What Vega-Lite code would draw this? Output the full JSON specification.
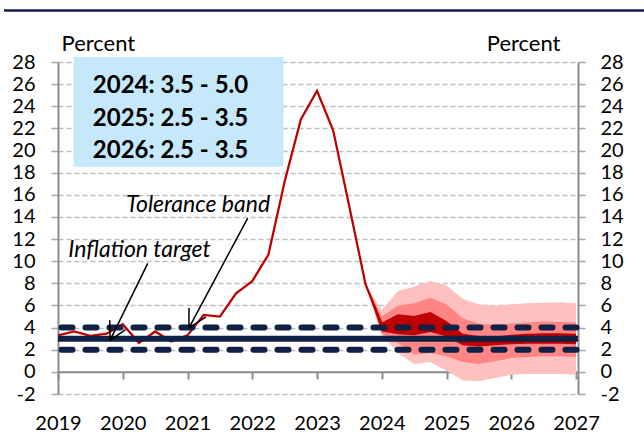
{
  "$schema": "https://vega.github.io/schema/vega-lite/v6.json",
  "width": 520,
  "height": 332,
  "autosize": "none",
  "padding": {"left": 58, "top": 62, "right": 66, "bottom": 40},
  "background": "white",
  "config": {"view": {"stroke": null}, "font": "Lato"},
  "datasets": {
    "hist": [
      {"t": 2019.0, "v": 3.3}, {"t": 2019.25, "v": 3.65}, {"t": 2019.5, "v": 3.25}, {"t": 2019.75, "v": 3.45},
      {"t": 2020.0, "v": 4.3}, {"t": 2020.25, "v": 2.6}, {"t": 2020.5, "v": 3.65}, {"t": 2020.75, "v": 2.75},
      {"t": 2021.0, "v": 3.3}, {"t": 2021.25, "v": 5.15}, {"t": 2021.5, "v": 5.0}, {"t": 2021.75, "v": 7.1},
      {"t": 2022.0, "v": 8.2}, {"t": 2022.25, "v": 10.6}, {"t": 2022.5, "v": 17.2}, {"t": 2022.75, "v": 22.8},
      {"t": 2023.0, "v": 25.4}, {"t": 2023.25, "v": 21.8}, {"t": 2023.5, "v": 14.9}, {"t": 2023.75, "v": 7.9},
      {"t": 2024.0, "v": 4.3}
    ],
    "fan": [
      {"t": 2023.75, "lo90": 7.9, "lo60": 7.9, "lo30": 7.9, "hi30": 7.9, "hi60": 7.9, "hi90": 7.9},
      {"t": 2024.0, "lo90": 3.3, "lo60": 3.45, "lo30": 3.65, "hi30": 4.45, "hi60": 5.0, "hi90": 5.6},
      {"t": 2024.25, "lo90": 1.7, "lo60": 2.6, "lo30": 3.4, "hi30": 5.2, "hi60": 6.0, "hi90": 7.3},
      {"t": 2024.5, "lo90": 0.7, "lo60": 1.55, "lo30": 3.3, "hi30": 5.05, "hi60": 6.2, "hi90": 7.7},
      {"t": 2024.75, "lo90": 0.9, "lo60": 1.7, "lo30": 3.6, "hi30": 5.4, "hi60": 6.7, "hi90": 8.2},
      {"t": 2025.0, "lo90": 0.1, "lo60": 1.4, "lo30": 3.2, "hi30": 4.6, "hi60": 6.1, "hi90": 7.8},
      {"t": 2025.25, "lo90": -0.75, "lo60": 0.9, "lo30": 2.4, "hi30": 3.45, "hi60": 4.85, "hi90": 6.6},
      {"t": 2025.5, "lo90": -0.85, "lo60": 0.7, "lo30": 2.3, "hi30": 3.25, "hi60": 4.35, "hi90": 6.1},
      {"t": 2025.75, "lo90": -0.55, "lo60": 0.95, "lo30": 2.4, "hi30": 3.2, "hi60": 4.25, "hi90": 6.0},
      {"t": 2026.0, "lo90": -0.25, "lo60": 1.25, "lo30": 2.5, "hi30": 3.35, "hi60": 4.35, "hi90": 6.1},
      {"t": 2026.25, "lo90": -0.2, "lo60": 1.35, "lo30": 2.55, "hi30": 3.45, "hi60": 4.45, "hi90": 6.2},
      {"t": 2026.5, "lo90": -0.2, "lo60": 1.4, "lo30": 2.55, "hi30": 3.5, "hi60": 4.55, "hi90": 6.25},
      {"t": 2026.75, "lo90": -0.2, "lo60": 1.4, "lo30": 2.55, "hi30": 3.5, "hi60": 4.5, "hi90": 6.3},
      {"t": 2027.0, "lo90": -0.25, "lo60": 1.35, "lo30": 2.5, "hi30": 3.45, "hi60": 4.45, "hi90": 6.2}
    ],
    "band": [{"lvl": 2}, {"lvl": 4}],
    "one": [{}]
  },
  "resolve": {"axis": {"y": "independent"}},
  "layer": [
    {
      "data": {"name": "one"},
      "mark": {"type": "rule", "stroke": "#0f2145", "strokeWidth": 2.5},
      "encoding": {
        "x": {"datum": 2018.166, "type": "quantitative"},
        "x2": {"datum": 2028.05},
        "y": {"datum": 32.66, "type": "quantitative", "axis": null}
      }
    },
    {
      "data": {"name": "one"},
      "mark": {"type": "rect", "fill": "#c5e9fa"},
      "encoding": {
        "x": {"datum": 2019.239, "type": "quantitative"},
        "x2": {"datum": 2022.482},
        "y": {"datum": 28.45, "type": "quantitative", "axis": null},
        "y2": {"datum": 18.53}
      }
    },
    {
      "data": {"name": "fan"},
      "mark": {"type": "area", "fill": "#ffc0c0"},
      "encoding": {
        "x": {"field": "t", "type": "quantitative"},
        "y": {"field": "hi90", "type": "quantitative", "axis": null},
        "y2": {"field": "lo90"}
      }
    },
    {
      "data": {"name": "fan"},
      "mark": {"type": "area", "fill": "#ff8585"},
      "encoding": {
        "x": {"field": "t", "type": "quantitative"},
        "y": {"field": "hi60", "type": "quantitative", "axis": null},
        "y2": {"field": "lo60"}
      }
    },
    {
      "data": {"name": "fan"},
      "mark": {"type": "area", "fill": "#c00000"},
      "encoding": {
        "x": {"field": "t", "type": "quantitative"},
        "y": {"field": "hi30", "type": "quantitative", "axis": null},
        "y2": {"field": "lo30"}
      }
    },
    {
      "data": {"name": "hist"},
      "mark": {"type": "line", "stroke": "#c00000", "strokeWidth": 2.25},
      "encoding": {
        "x": {
          "field": "t", "type": "quantitative",
          "scale": {"domain": [2019, 2027.03], "nice": false, "zero": false},
          "axis": {
            "values": [2019, 2020, 2021, 2022, 2023, 2024, 2025, 2026, 2027],
            "format": "d", "offset": -22.13, "grid": false,
            "domainColor": "#8c8c8c", "domainWidth": 2,
            "tickColor": "#8c8c8c", "tickWidth": 2, "tickSize": 7,
            "labelPadding": 35, "labelFontSize": 20, "labelFont": "Lato", "labelColor": "#000000",
            "labelFlush": false, "labelOverlap": false, "title": null
          }
        },
        "y": {
          "field": "v", "type": "quantitative",
          "scale": {"domain": [-2, 28], "nice": false, "zero": false},
          "axis": {
            "orient": "left",
            "values": [-2, 0, 2, 4, 6, 8, 10, 12, 14, 16, 18, 20, 22, 24, 26, 28],
            "labelExpr": "datum.value < 0 ? '-' + abs(datum.value) : '' + datum.value",
            "grid": true, "gridDash": [5, 3], "gridColor": "#bfbfbf", "gridWidth": 1.5,
            "domainColor": "#8c8c8c", "domainWidth": 2,
            "tickColor": "#a6a6a6", "tickWidth": 1.5, "tickSize": 7,
            "labelPadding": 16, "labelFontSize": 20, "labelFont": "Lato", "labelColor": "#000000",
            "labelOverlap": false,
            "title": "Percent", "titleAngle": 0, "titleX": 3, "titleY": -19,
            "titleAlign": "left", "titleBaseline": "middle",
            "titleFont": "Lato", "titleFontSize": 22, "titleFontWeight": "normal", "titleColor": "#000000"
          }
        }
      }
    },
    {
      "data": {"name": "band"},
      "mark": {"type": "rule", "stroke": "#0f2145", "strokeWidth": 6, "strokeDash": [11, 13], "strokeDashOffset": -3.5, "strokeCap": "round"},
      "encoding": {
        "x": {"datum": 2019, "type": "quantitative"},
        "x2": {"datum": 2027.03},
        "y": {
          "field": "lvl", "type": "quantitative",
          "axis": {
            "orient": "right",
            "values": [-2, 0, 2, 4, 6, 8, 10, 12, 14, 16, 18, 20, 22, 24, 26, 28],
            "labelExpr": "datum.value < 0 ? '-' + abs(datum.value) : '' + datum.value",
            "grid": false,
            "domainColor": "#8c8c8c", "domainWidth": 2,
            "tickColor": "#a6a6a6", "tickWidth": 1.5, "tickSize": 7,
            "labelPadding": 15, "labelFontSize": 20, "labelFont": "Lato", "labelColor": "#000000",
            "labelOverlap": false,
            "title": "Percent", "titleAngle": 0, "titleX": -18, "titleY": -19,
            "titleAlign": "right", "titleBaseline": "middle",
            "titleFont": "Lato", "titleFontSize": 22, "titleFontWeight": "normal", "titleColor": "#000000"
          }
        }
      }
    },
    {
      "data": {"name": "one"},
      "mark": {"type": "rule", "stroke": "#0f2145", "strokeWidth": 6},
      "encoding": {
        "x": {"datum": 2019, "type": "quantitative"},
        "x2": {"datum": 2027.03},
        "y": {"datum": 3, "type": "quantitative", "axis": null}
      }
    },
    {
      "data": {"name": "one"},
      "mark": {"type": "rule", "stroke": "#000000", "strokeWidth": 1.5},
      "encoding": {
        "x": {"datum": 2020.386, "type": "quantitative"},
        "x2": {"datum": 2019.803},
        "y": {"datum": 9.806, "type": "quantitative", "axis": null},
        "y2": {"datum": 2.851}
      }
    },
    {
      "data": {"name": "one"},
      "mark": {"type": "rule", "stroke": "#000000", "strokeWidth": 1.5},
      "encoding": {
        "x": {"datum": 2019.803, "type": "quantitative"},
        "x2": {"datum": 2019.800},
        "y": {"datum": 2.851, "type": "quantitative", "axis": null},
        "y2": {"datum": 4.664}
      }
    },
    {
      "data": {"name": "one"},
      "mark": {"type": "rule", "stroke": "#000000", "strokeWidth": 1.5},
      "encoding": {
        "x": {"datum": 2019.803, "type": "quantitative"},
        "x2": {"datum": 2020.042},
        "y": {"datum": 2.851, "type": "quantitative", "axis": null},
        "y2": {"datum": 3.825}
      }
    },
    {
      "data": {"name": "one"},
      "mark": {"type": "rule", "stroke": "#000000", "strokeWidth": 1.5},
      "encoding": {
        "x": {"datum": 2021.930, "type": "quantitative"},
        "x2": {"datum": 2021.0225},
        "y": {"datum": 13.90, "type": "quantitative", "axis": null},
        "y2": {"datum": 3.978}
      }
    },
    {
      "data": {"name": "one"},
      "mark": {"type": "rule", "stroke": "#000000", "strokeWidth": 1.5},
      "encoding": {
        "x": {"datum": 2021.0225, "type": "quantitative"},
        "x2": {"datum": 2021.0225},
        "y": {"datum": 3.978, "type": "quantitative", "axis": null},
        "y2": {"datum": 5.765}
      }
    },
    {
      "data": {"name": "one"},
      "mark": {"type": "rule", "stroke": "#000000", "strokeWidth": 1.5},
      "encoding": {
        "x": {"datum": 2021.0225, "type": "quantitative"},
        "x2": {"datum": 2021.285},
        "y": {"datum": 3.978, "type": "quantitative", "axis": null},
        "y2": {"datum": 4.98}
      }
    },
    {
      "data": {"name": "one"},
      "mark": {"type": "text", "font": "Lato", "fontSize": 23, "fontStyle": "italic", "color": "#000000", "align": "center", "baseline": "middle"},
      "encoding": {
        "x": {"datum": 2020.258, "type": "quantitative"},
        "y": {"datum": 11.04, "type": "quantitative", "axis": null},
        "text": {"value": "Inflation target"}
      }
    },
    {
      "data": {"name": "one"},
      "mark": {"type": "text", "font": "Lato", "fontSize": 23, "fontStyle": "italic", "color": "#000000", "align": "center", "baseline": "middle"},
      "encoding": {
        "x": {"datum": 2021.162, "type": "quantitative"},
        "y": {"datum": 15.10, "type": "quantitative", "axis": null},
        "text": {"value": "Tolerance band"}
      }
    },
    {
      "data": {"name": "one"},
      "mark": {"type": "text", "font": "Lato", "fontSize": 24, "fontWeight": "bold", "color": "#000000", "align": "center", "baseline": "middle", "lineHeight": 32.5},
      "encoding": {
        "x": {"datum": 2020.737, "type": "quantitative"},
        "y": {"datum": 25.8, "type": "quantitative", "axis": null},
        "text": {"value": ["2024: 3.5 - 5.0", "2025: 2.5 - 3.5", "2026: 2.5 - 3.5"]}
      }
    }
  ]
}
